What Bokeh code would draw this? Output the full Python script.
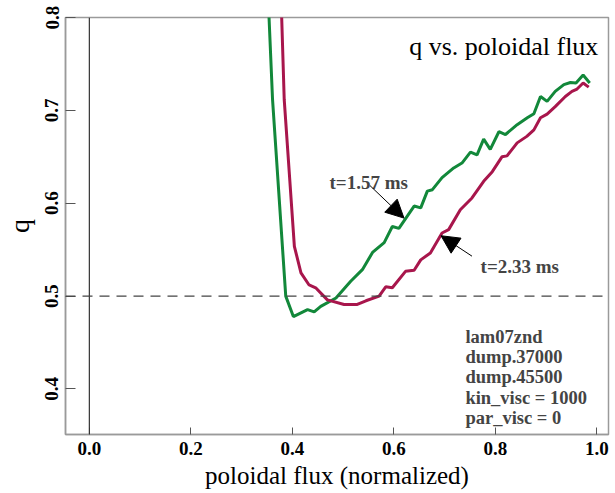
from bokeh.plotting import figure
from bokeh.models import Label, Arrow, NormalHead, Span, Range1d, PrintfTickFormatter
from bokeh.embed import file_html
from bokeh.resources import INLINE

# ---- data ----
green_x = [0.352, 0.354, 0.361, 0.387, 0.402, 0.430, 0.443, 0.456, 0.486, 0.515, 0.538,
           0.558, 0.581, 0.597, 0.610, 0.640, 0.653, 0.666, 0.676, 0.695, 0.718, 0.735,
           0.751, 0.764, 0.777, 0.790, 0.807, 0.820, 0.843, 0.863, 0.876, 0.889, 0.902,
           0.918, 0.935, 0.948, 0.959, 0.973, 0.986]
green_q = [0.830, 0.801, 0.7115, 0.500, 0.478, 0.4855, 0.483, 0.489, 0.498, 0.516, 0.5285,
           0.547, 0.5576, 0.575, 0.573, 0.597, 0.595, 0.613, 0.6146, 0.6276, 0.638, 0.6437,
           0.655, 0.652, 0.669, 0.658, 0.677, 0.674, 0.6846, 0.692, 0.6964, 0.715, 0.7097,
           0.7205, 0.7277, 0.730, 0.7295, 0.738, 0.7295]

red_x = [0.378, 0.379, 0.384, 0.404, 0.417, 0.433, 0.446, 0.469, 0.502, 0.528, 0.545,
         0.571, 0.584, 0.597, 0.623, 0.640, 0.653, 0.672, 0.695, 0.708, 0.731, 0.754,
         0.777, 0.794, 0.813, 0.823, 0.843, 0.862, 0.876, 0.889, 0.902, 0.918, 0.938,
         0.951, 0.961, 0.973, 0.984]
red_q = [0.830, 0.800, 0.7115, 0.5536, 0.525, 0.512, 0.509, 0.496, 0.491, 0.491, 0.495,
         0.500, 0.510, 0.509, 0.5267, 0.5278, 0.539, 0.5465, 0.568, 0.5716, 0.593, 0.6057,
         0.6236, 0.634, 0.650, 0.651, 0.665, 0.672, 0.679, 0.692, 0.696, 0.704, 0.715,
         0.7205, 0.723, 0.7295, 0.725]

x_ticks = [0.0, 0.2, 0.4, 0.6, 0.8, 1.0]
y_ticks = [0.4, 0.5, 0.6, 0.7, 0.8]
info_lines = ["lam07znd", "dump.37000", "dump.45500", "kin_visc = 1000", "par_visc = 0"]
title_text = "q vs. poloidal flux"
label_green = "t=1.57 ms"
label_red = "t=2.33 ms"

GREEN = "#12883a"
RED = "#a8164c"
SERIF = "Liberation Serif"

p = figure(width=615, height=493, output_backend="svg", toolbar_location=None,
           x_range=Range1d(-0.047, 1.023), y_range=Range1d(0.351, 0.8),
           min_border_left=65, min_border_right=7, min_border_top=17, min_border_bottom=59)
p.grid.visible = False
p.background_fill_color = "white"
p.border_fill_color = "white"
p.outline_line_color = "#9a9a9a"
p.outline_line_width = 1.5

# reference lines
p.add_layout(Span(location=0.0, dimension="height", line_color="#333333", line_width=1.2))
p.add_layout(Span(location=0.5, dimension="width", line_color="#444444", line_width=1.2,
                  line_dash="10 7"))

p.line(green_x, green_q, line_color=GREEN, line_width=3)
p.line(red_x, red_q, line_color=RED, line_width=3)

# axes
for ax in (p.xaxis[0], p.yaxis[0]):
    ax.axis_line_color = "#9a9a9a"
    ax.axis_line_width = 1.5
    ax.major_tick_line_color = "#555555"
    ax.major_tick_out = 0
    ax.minor_tick_line_color = None
    ax.major_label_text_font = SERIF
    ax.major_label_text_font_style = "bold"
    ax.major_label_text_font_size = "19px"
    ax.major_label_text_color = "black"
    ax.axis_label_text_font = SERIF
    ax.axis_label_text_font_style = "normal"
    ax.axis_label_text_color = "black"
    ax.formatter = PrintfTickFormatter(format="%.1f")

p.xaxis.ticker = x_ticks
p.yaxis.ticker = y_ticks
p.xaxis.major_tick_in = 7
p.yaxis.major_tick_in = 10
p.xaxis.major_label_standoff = 7
p.yaxis.major_label_standoff = 7
p.yaxis.major_label_orientation = "vertical"
p.xaxis.axis_label = "poloidal flux (normalized)"
p.yaxis.axis_label = "q"
p.xaxis.axis_label_text_font_size = "25px"
p.yaxis.axis_label_text_font_size = "28px"
p.xaxis.axis_label_standoff = 4
p.yaxis.axis_label_standoff = 8

# title inside plot
p.add_layout(Label(x=1.003, y=0.7686, text=title_text, text_align="right",
                   text_baseline="alphabetic", text_font=SERIF, text_font_size="26px",
                   text_color="black"))

# annotations with arrows
p.add_layout(Label(x=0.5505, y=0.622, text=label_green, text_align="center",
                   text_baseline="alphabetic", text_font=SERIF, text_font_style="bold",
                   text_font_size="19px"))
p.add_layout(Arrow(end=NormalHead(size=18, fill_color="black", line_color="black"),
                   x_start=0.553, y_start=0.619, x_end=0.620, y_end=0.584,
                   line_color="black", line_width=1))
p.add_layout(Label(x=0.771, y=0.532, text=label_red, text_align="left",
                   text_baseline="alphabetic", text_font=SERIF, text_font_style="bold",
                   text_font_size="19px"))
p.add_layout(Arrow(end=NormalHead(size=18, fill_color="black", line_color="black"),
                   x_start=0.754, y_start=0.543, x_end=0.693, y_end=0.565,
                   line_color="black", line_width=1))

# info block
info_top = 0.4564
info_step = 0.0219
for i, line in enumerate(info_lines):
    p.add_layout(Label(x=0.741, y=info_top - i * info_step, text=line, text_align="left",
                       text_baseline="alphabetic", text_font=SERIF, text_font_style="bold",
                       text_font_size="18.5px"))

open("out.html", "w").write(file_html(p, INLINE))
